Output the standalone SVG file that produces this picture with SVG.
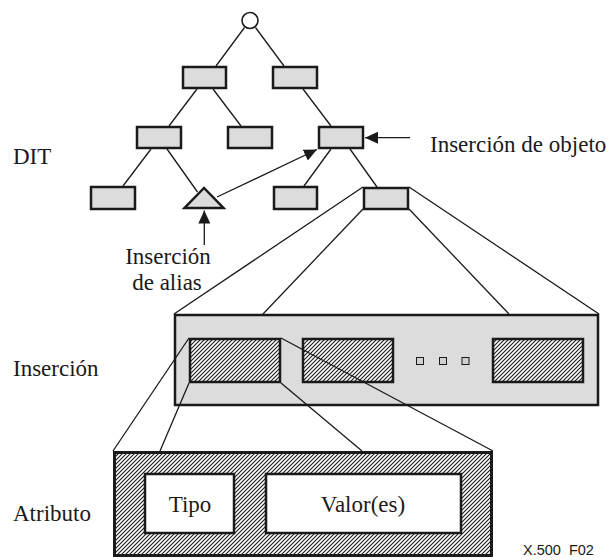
<svg xmlns="http://www.w3.org/2000/svg" width="610" height="560" viewBox="0 0 610 560">
  <style>
    .box { fill: #dcdcdc; stroke: #1a1a1a; stroke-width: 2.5; }
    .frame { fill: #dcdcdc; stroke: #1a1a1a; stroke-width: 2.5; }
    .hatched { fill: url(#hatch); stroke: #1a1a1a; stroke-width: 2.5; }
    .white { fill: #ffffff; stroke: #1a1a1a; stroke-width: 2.5; }
    .dot { fill: #d0d0d0; stroke: #1a1a1a; stroke-width: 1; }
    .link { fill: none; stroke: #1a1a1a; stroke-width: 1.3; }
    .arrow { fill: none; stroke: #1a1a1a; stroke-width: 1.3; marker-end: url(#head); }
    .lbl { font-family: "Liberation Serif", "Times New Roman", serif; font-size: 23px; fill: #1a1a1a; }
    .mid { text-anchor: middle; }
    .code { font-family: "Liberation Sans", Arial, sans-serif; font-size: 14.5px; fill: #1a1a1a; }
  </style>
  <defs>
    <pattern id="hatch" patternUnits="userSpaceOnUse" width="4" height="4">
      <rect width="4" height="4" fill="#ffffff"/>
      <path d="M-1,1 L1,-1 M0,4 L4,0 M3,5 L5,3" stroke="#1a1a1a" stroke-width="1.1"/>
    </pattern>
    <marker id="head" viewBox="0 0 13 12" refX="13" refY="6" markerWidth="13" markerHeight="12" markerUnits="userSpaceOnUse" orient="auto">
      <path d="M0,0 L13,6 L0,12 z" fill="#1a1a1a"/>
    </marker>
  </defs>

  <!-- directory information tree -->
  <g id="root"><circle cx="250" cy="20.5" r="8" fill="#ffffff" stroke="#1a1a1a" stroke-width="1.6"/></g>
  <g id="n1a"><rect class="box" x="183" y="67" width="43" height="21"/></g>
  <g id="n1b"><rect class="box" x="273" y="67" width="44" height="21"/></g>
  <g id="n2a"><rect class="box" x="137" y="127" width="44" height="21"/></g>
  <g id="n2b"><rect class="box" x="228" y="127" width="44" height="21"/></g>
  <g id="n2c"><rect class="box" x="319" y="127" width="44" height="21"/></g>
  <g id="n3a"><rect class="box" x="91" y="187" width="44" height="22"/></g>
  <g id="alias"><polygon class="box" points="204,188 184.5,208 223.5,208" stroke-linejoin="miter"/></g>
  <g id="n3c"><rect class="box" x="274" y="187" width="43" height="22"/></g>
  <g id="n3d"><rect class="box" x="364" y="188" width="44" height="21"/></g>

  <!-- entry -->
  <g id="entry">
    <rect class="frame" x="175" y="315" width="423" height="90"/>
    <rect class="hatched" x="190" y="339" width="90" height="43"/>
    <rect class="hatched" x="303" y="339" width="90" height="43"/>
    <rect class="hatched" x="493" y="339" width="90" height="43"/>
    <rect class="dot" x="416.5" y="357.5" width="7" height="7"/>
    <rect class="dot" x="439.5" y="357.5" width="7" height="7"/>
    <rect class="dot" x="462" y="357.5" width="7" height="7"/>
  </g>

  <!-- attribute -->
  <g id="attribute">
    <rect x="114.5" y="452.5" width="377" height="103" fill="url(#hatch)" stroke="#1a1a1a" stroke-width="3"/>
    <rect class="white" x="145" y="474" width="89" height="59"/>
    <rect class="white" x="266" y="474" width="195" height="59"/>
    <text class="lbl mid" x="190" y="512">Tipo</text>
    <text class="lbl mid" x="363" y="512">Valor(es)</text>
  </g>

  <!-- connectors -->
  <g id="connectors">
    <path class="link" d="M244.5,27.5 L216,66"/>
    <path class="link" d="M255.5,27.5 L284,66"/>
    <path class="link" d="M197,89 L169,126"/>
    <path class="link" d="M213,89 L241,126"/>
    <path class="link" d="M303,89 L331,126"/>
    <path class="link" d="M151,149 L123,186"/>
    <path class="link" d="M167,149 L197.5,192"/>
    <path class="link" d="M331,149 L304,186"/>
    <path class="link" d="M350,149 L377,187"/>
    <path class="link" d="M363,187 L174,314"/>
    <path class="link" d="M363,209 L263,314"/>
    <path class="link" d="M409,209 L509,314"/>
    <path class="link" d="M409,187 L599,314"/>
    <path class="link" d="M189,338 L113,451"/>
    <path class="link" d="M189,383 L160,451"/>
    <path class="link" d="M281,383 L362,451"/>
    <path class="link" d="M281,338 L493,451"/>
    <path class="arrow" d="M217,197 L317,149.5"/>
    <path class="arrow" d="M410,137.7 L365,137.7"/>
    <path class="arrow" d="M204.3,245 L204.3,210.5"/>
  </g>

  <!-- labels -->
  <g id="labels">
    <text class="lbl" x="13" y="164">DIT</text>
    <text class="lbl" x="430" y="152">Inserción de objeto</text>
    <text class="lbl mid" x="168" y="264">Inserción</text>
    <text class="lbl mid" x="167" y="290">de alias</text>
    <text class="lbl" x="13" y="375.5">Inserción</text>
    <text class="lbl" x="13" y="521">Atributo</text>
    <text class="code" x="523" y="555" xml:space="preserve">X.500  F02</text>
  </g>
</svg>
